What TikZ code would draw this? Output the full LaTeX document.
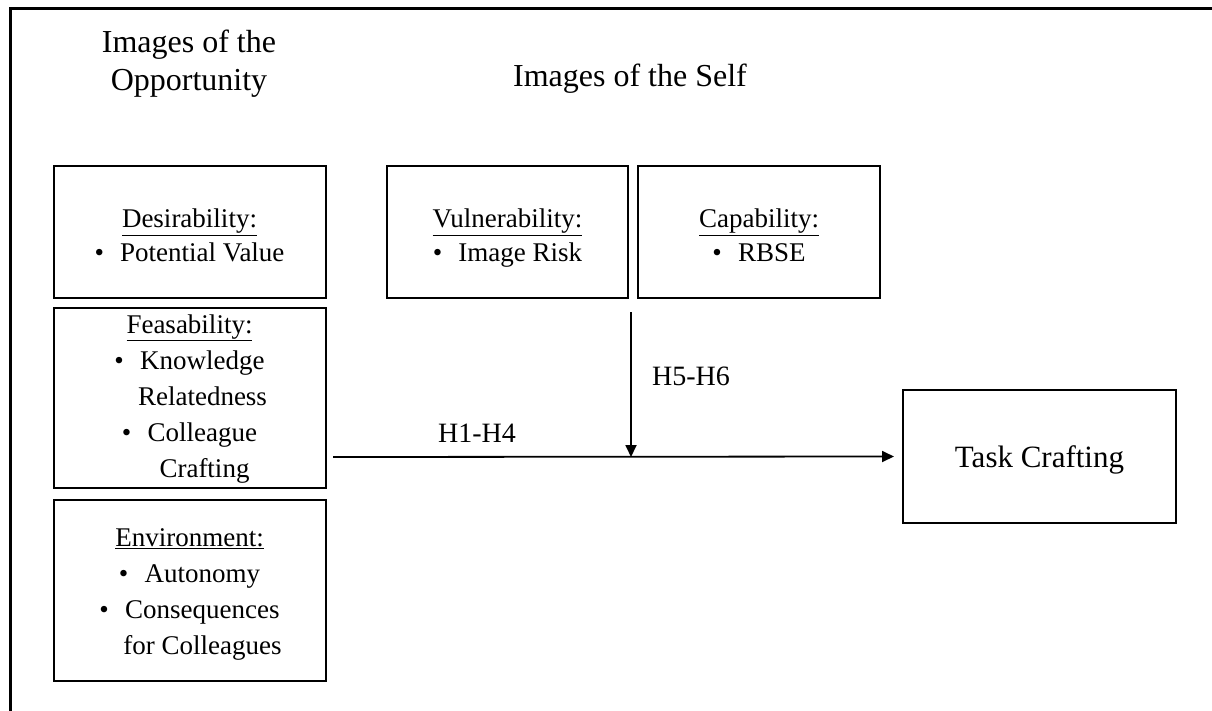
\documentclass[tikz,border=0pt]{standalone}
\usepackage{fontspec}
\setmainfont{Liberation Serif}
\usetikzlibrary{arrows.meta}
\begin{document}
\begin{tikzpicture}[x=1pt,y=-1pt,
  box/.style={draw,line width=2pt,inner sep=0pt,align=center,
    font=\fontsize{27}{34}\selectfont,
    execute at end node=\strut},
  head/.style={align=center,inner sep=0pt,font=\fontsize{32}{38}\selectfont},
  lab/.style={inner sep=0pt,font=\fontsize{28}{34}\selectfont},
  conn/.style={line width=1.8pt,-{Triangle[length=12pt,width=11pt]}}]
\useasboundingbox (0,0) rectangle (1212,711);
\fill[white] (0,0) rectangle (1212,711);
\draw[line width=3pt] (10.5,711) -- (10.5,8.7) -- (1212,8.7);
\node[head] (h1) at (189,64) {Images of the\\Opportunity};
\node[head] (h2) at (630,79) {Images of the Self};
\newcommand{\bl}{\textbullet\hspace{0.6em}}
\node[box,minimum width=272pt,minimum height=132pt] (des) at (189.5,232)
  {\rule{0pt}{36pt}\underline{Desirability:}\\ \bl Potential Value};
\node[box,minimum width=272pt,minimum height=180pt,font=\fontsize{27}{36}\selectfont] (feas) at (189.5,398)
  {\strut\underline{Feasability:}\\ \bl Knowledge\\ \hspace*{26pt}Relatedness\\ \bl Colleague\\ \hspace*{30pt}Crafting};
\node[box,minimum width=272pt,minimum height=181pt,font=\fontsize{27}{36}\selectfont] (env) at (189.5,590.5)
  {\rule{0pt}{31pt}\underline{Environment:}\\ \bl Autonomy\\ \bl Consequences\\ \hspace*{26pt}for Colleagues};
\node[box,minimum width=241pt,minimum height=132pt] (vul) at (507.5,232)
  {\rule{0pt}{36pt}\underline{Vulnerability:}\\ \bl Image Risk};
\node[box,minimum width=242pt,minimum height=132pt] (cap) at (759,232)
  {\rule{0pt}{36pt}\underline{Capability:}\\ \bl RBSE};
\node[box,minimum width=273pt,minimum height=133pt,font=\fontsize{31}{37}\selectfont] (task) at (1039.5,456.5)
  {\rule{0pt}{34pt}Task Crafting};
\coordinate (hstart) at (333,457);
\coordinate (vstart) at (631,312);
\draw[conn] (hstart) -- ([xshift=-8pt]task.west);
\draw[conn] (vstart) -- (vstart |- hstart);
\node[lab] (l1) at (477,433) {H1-H4};
\node[lab] (l2) at (691,376) {H5-H6};
\end{tikzpicture}
\end{document}
